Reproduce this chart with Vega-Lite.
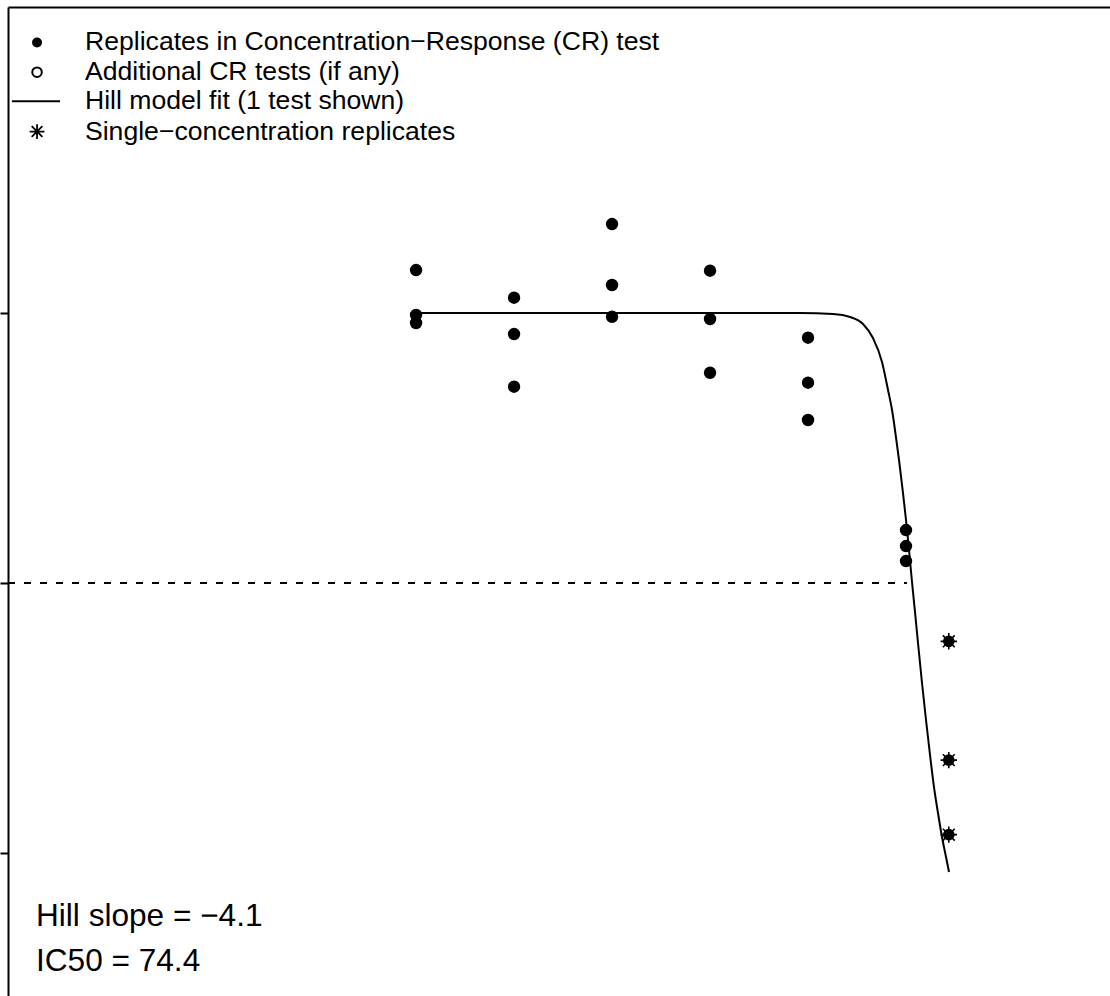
{
  "$schema": "https://vega.github.io/schema/vega-lite/v6.json",
  "width": 1102,
  "height": 989,
  "autosize": {"type": "none"},
  "padding": {"left": 8, "top": 7, "right": 0, "bottom": 0},
  "background": "white",
  "config": {
    "view": {"stroke": null},
    "font": "Liberation Sans",
    "axis": {"grid": false}
  },
  "datasets": {
    "cr": [
      {"conc": 2.34375, "resp": 107.96}, {"conc": 2.34375, "resp": 99.63}, {"conc": 2.34375, "resp": 98.15},
      {"conc": 4.6875, "resp": 102.83}, {"conc": 4.6875, "resp": 96.11}, {"conc": 4.6875, "resp": 86.35},
      {"conc": 9.375, "resp": 116.48}, {"conc": 9.375, "resp": 105.19}, {"conc": 9.375, "resp": 99.31},
      {"conc": 18.75, "resp": 107.83}, {"conc": 18.75, "resp": 98.89}, {"conc": 18.75, "resp": 88.94},
      {"conc": 37.5, "resp": 95.43}, {"conc": 37.5, "resp": 87.09}, {"conc": 37.5, "resp": 80.19},
      {"conc": 75, "resp": 59.81}, {"conc": 75, "resp": 56.85}, {"conc": 75, "resp": 54.07}
    ],
    "single": [
      {"conc": 101.5, "resp": 39.2}, {"conc": 101.5, "resp": 17.2}, {"conc": 101.5, "resp": 3.4}
    ],
    "fit": [
      {"conc": 2.343, "resp": 100.0},
      {"conc": 35.44, "resp": 100.0},
      {"conc": 44.76, "resp": 99.81},
      {"conc": 50.47, "resp": 99.26},
      {"conc": 55.33, "resp": 97.96},
      {"conc": 59.38, "resp": 95.37},
      {"conc": 63.29, "resp": 90.93},
      {"conc": 66.04, "resp": 85.74},
      {"conc": 67.94, "resp": 82.04},
      {"conc": 69.39, "resp": 78.33},
      {"conc": 71.38, "resp": 72.78},
      {"conc": 73.42, "resp": 66.67},
      {"conc": 75.0, "resp": 61.67},
      {"conc": 76.61, "resp": 56.11},
      {"conc": 78.25, "resp": 50.19},
      {"conc": 79.93, "resp": 44.63},
      {"conc": 81.64, "resp": 38.89},
      {"conc": 83.99, "resp": 31.48},
      {"conc": 86.4, "resp": 24.63},
      {"conc": 88.88, "resp": 18.15},
      {"conc": 91.42, "resp": 12.22},
      {"conc": 94.04, "resp": 7.41},
      {"conc": 96.75, "resp": 2.96},
      {"conc": 99.53, "resp": -0.74},
      {"conc": 101.67, "resp": -3.52}
    ],
    "ic50line": [{"conc": 0.1307, "conc2": 75.5, "resp": 50}],
    "legendText": [
      {"conc": 0.2253, "resp": 150.1, "label": "Replicates in Concentration−Response (CR) test"},
      {"conc": 0.2253, "resp": 144.6, "label": "Additional CR tests (if any)"},
      {"conc": 0.2253, "resp": 139.2, "label": "Hill model fit (1 test shown)"},
      {"conc": 0.2253, "resp": 133.6, "label": "Single−concentration replicates"}
    ],
    "legendDot": [{"conc": 0.1605, "resp": 150.1}],
    "legendOpen": [{"conc": 0.1605, "resp": 144.6}],
    "legendLine": [{"conc": 0.1344, "conc2": 0.1888, "resp": 139.2}],
    "legendStar": [{"conc": 0.1605, "resp": 133.6}],
    "notes": [
      {"conc": 0.1593, "resp": -11.85, "label": "Hill slope = −4.1"},
      {"conc": 0.1593, "resp": -20.19, "label": "IC50 = 74.4"}
    ]
  },
  "encoding": {
    "x": {
      "field": "conc", "type": "quantitative",
      "scale": {"type": "log", "domain": [0.1307, 317.5], "nice": false, "zero": false},
      "axis": {"orient": "top", "title": null, "labels": false, "ticks": false, "domain": true, "domainColor": "black", "domainWidth": 2}
    },
    "y": {
      "field": "resp", "type": "quantitative",
      "scale": {"domain": [-26.48, 156.67], "nice": false, "zero": false},
      "axis": {"orient": "left", "title": null, "labels": false, "values": [0, 50, 100], "ticks": true, "tickSize": 8, "tickWidth": 2, "tickColor": "black", "domain": true, "domainColor": "black", "domainWidth": 2}
    }
  },
  "layer": [
    {
      "data": {"name": "ic50line"},
      "mark": {"type": "rule", "color": "black", "strokeWidth": 2, "strokeDash": [7, 9]},
      "encoding": {"x2": {"field": "conc2"}}
    },
    {
      "data": {"name": "fit"},
      "mark": {"type": "line", "color": "black", "strokeWidth": 2, "interpolate": "monotone"},
      "encoding": {}
    },
    {
      "data": {"name": "cr"},
      "mark": {"type": "circle", "color": "black", "opacity": 1, "size": 154},
      "encoding": {}
    },
    {
      "data": {"name": "single"},
      "mark": {"type": "circle", "color": "black", "opacity": 1, "size": 135},
      "encoding": {}
    },
    {
      "data": {"name": "single"},
      "mark": {"type": "point", "shape": "M-1,0L1,0M0,-1L0,1M-0.72,-0.72L0.72,0.72M-0.72,0.72L0.72,-0.72", "size": 270, "stroke": "black", "strokeWidth": 1.6, "fill": null, "opacity": 1, "filled": false},
      "encoding": {}
    },
    {
      "data": {"name": "legendDot"},
      "mark": {"type": "circle", "color": "black", "opacity": 1, "size": 100},
      "encoding": {}
    },
    {
      "data": {"name": "legendOpen"},
      "mark": {"type": "point", "shape": "circle", "size": 90, "stroke": "black", "strokeWidth": 2, "filled": false, "opacity": 1},
      "encoding": {}
    },
    {
      "data": {"name": "legendLine"},
      "mark": {"type": "rule", "color": "black", "strokeWidth": 2},
      "encoding": {"x2": {"field": "conc2"}}
    },
    {
      "data": {"name": "legendStar"},
      "mark": {"type": "point", "shape": "M-1,0L1,0M0,-1L0,1M-0.72,-0.72L0.72,0.72M-0.72,0.72L0.72,-0.72", "size": 220, "stroke": "black", "strokeWidth": 1.8, "filled": false, "opacity": 1},
      "encoding": {}
    },
    {
      "data": {"name": "legendText"},
      "mark": {"type": "text", "align": "left", "baseline": "middle", "fontSize": 26.6, "color": "black", "font": "Liberation Sans"},
      "encoding": {"text": {"field": "label"}}
    },
    {
      "data": {"name": "notes"},
      "mark": {"type": "text", "align": "left", "baseline": "middle", "fontSize": 31.6, "color": "black", "font": "Liberation Sans"},
      "encoding": {"text": {"field": "label"}}
    }
  ]
}
